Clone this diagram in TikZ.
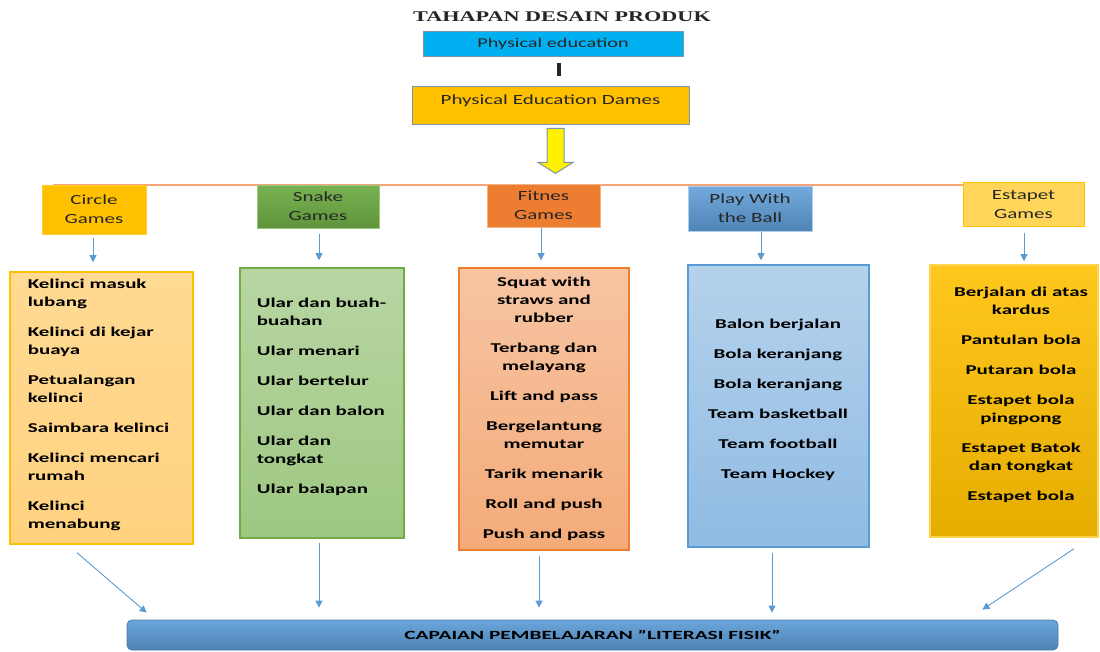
\documentclass[tikz,border=0pt]{standalone}
\usepackage{fontspec}
\setmainfont{Carlito}
\newfontfamily\titlefont{Liberation Serif}
\usepackage{graphicx}
\usetikzlibrary{arrows.meta,calc}
\definecolor{cPE}{HTML}{00B0F0}
\definecolor{cGold}{HTML}{FFC000}
\definecolor{cBoxLine}{HTML}{7F93AA}
\definecolor{cOrange}{HTML}{ED7D31}
\definecolor{cOrLine}{HTML}{F4A47A}
\definecolor{cGreen}{HTML}{70AD47}
\definecolor{cBlue}{HTML}{5B9BD5}
\definecolor{cTxt}{HTML}{262626}
\definecolor{cCircTop}{HTML}{FFDA94}
\definecolor{cCircBot}{HTML}{FFD27F}
\newcommand{\sx}[1]{\scalebox{1.5}[1]{#1}}
\newcommand{\hl}[1]{\scalebox{1.5}[1]{\begin{tabular}{@{}c@{}}#1\end{tabular}}}
\newcommand{\lstL}[1]{\scalebox{1.55}[1]{\begin{tabular}{@{}l@{}}#1\end{tabular}}}
\newcommand{\lstC}[1]{\scalebox{1.55}[1]{\begin{tabular}{@{}c@{}}#1\end{tabular}}}
\begin{document}
\begin{tikzpicture}[x=1pt,y=-1pt,
  box/.style={inner sep=0pt, line width=0.8pt},
  hdr/.style={box, text=cTxt, font=\fontsize{14}{19}\selectfont, line width=1pt},
  cbox/.style={box, line width=1.5pt},
  ltext/.style={inner sep=0pt, text=black, font=\bfseries\fontsize{13.5}{18}\selectfont},
  arr/.style={draw=cBlue, line width=0.9pt, -{Triangle[width=7pt,length=7pt]}},
  yarrow/.style={fill=yellow, draw=cBoxLine, line width=1pt, line join=miter}
]
\useasboundingbox (0,0) rectangle (1100,652);

% title
\node[inner sep=0pt, text=cTxt, font=\titlefont\bfseries\fontsize{14.8}{16}\selectfont] (title) at (562,17) {\sx{TAHAPAN DESAIN PRODUK}};

% top boxes
\node[box, fill=cPE, draw=cBoxLine, minimum width=260, minimum height=25, text=cTxt, font=\fontsize{13.5}{16}\selectfont] (pe) at (553,43.5) {\sx{Physical education}};
\node[box, fill=cGold, draw=cBoxLine, minimum width=277, minimum height=38] (ped) at (550.5,105) {};
\node[inner sep=0pt, text=cTxt, font=\fontsize{14}{16}\selectfont] (pedt) at ($(ped)+(0,-4)$) {\sx{Physical Education Dames}};

\draw[line width=3.5pt, black!85] ($(pe.south)+(6,7)$) -- ($(pe.south)+(6,20)$);
\draw[yarrow] ($(ped.south)+(-3.5,4)$) -- ++(17,0) -- ++(0,34) -- ++(9,0) -- ++(-17.5,11) -- ++(-17.5,-11) -- ++(9,0) -- cycle;

% orange line
\coordinate (la) at (53,185);
\coordinate (lb) at (965,185);
\draw[cOrLine, line width=1.5pt] (la) -- (lb);

% headers
\node[hdr, fill=cGold, draw=cGold!80!white, minimum width=104, minimum height=49] (circ) at (94,210.5) {\hl{Circle\\Games}};
\node[hdr, top color=cGreen!95!white, bottom color=cGreen!85!black, draw=cGreen!70!white, minimum width=122, minimum height=43] (snk) at (318,207.5) {\hl{Snake\\Games}};
\node[hdr, fill=cOrange, draw=cOrange!60!white, minimum width=113, minimum height=43] (fit) at (543.5,206.5) {\hl{Fitnes\\Games}};
\node[hdr, top color=cBlue!85!white, bottom color=cBlue!85!black, draw=cBlue!50!white, minimum width=124, minimum height=45] (play) at (750,209) {\hl{Play With\\the Ball}};
\node[hdr, fill=cGold!65!white, draw=cGold, minimum width=121, minimum height=44] (est) at (1023.5,205) {\hl{Estapet\\Games}};

% content boxes
\node[cbox, top color=cCircTop, bottom color=cCircBot, draw=cGold, minimum width=183, minimum height=272] (cc) at (101.5,408) {};
\node[cbox, top color=cGreen!50!white, bottom color=cGreen!68!white, draw=cGreen, minimum width=164, minimum height=270] (sc) at (322,403) {};
\node[cbox, top color=cOrange!45!white, bottom color=cOrange!65!white, draw=cOrange, minimum width=170, minimum height=282] (fc) at (544,409) {};
\node[cbox, top color=cBlue!45!white, bottom color=cBlue!68!white, draw=cBlue, minimum width=181, minimum height=282] (pc) at (778.5,406) {};
\node[cbox, top color=cGold!88!white, bottom color=cGold!90!black, draw=cGold!70!white, minimum width=168, minimum height=272] (ec) at (1014,401) {};

\node[ltext] (cct) at ($(cc)+(-3,-3)$) {\lstL{Kelinci masuk\\lubang\\[12pt]Kelinci di kejar\\buaya\\[12pt]Petualangan\\kelinci\\[12pt]Saimbara kelinci\\[12pt]Kelinci mencari\\rumah\\[12pt]Kelinci\\menabung}};
\node[ltext] (sct) at ($(sc)+(-0.5,-6.5)$) {\lstL{Ular dan buah-\\buahan\\[12pt]Ular menari\\[12pt]Ular bertelur\\[12pt]Ular dan balon\\[12pt]Ular dan\\tongkat\\[12pt]Ular balapan}};
\node[ltext] (fct) at ($(fc)+(0,-0.5)$) {\lstC{Squat with\\straws and\\rubber\\[12pt]Terbang dan\\melayang\\[12pt]Lift and pass\\[12pt]Bergelantung\\memutar\\[12pt]Tarik menarik\\[12pt]Roll and push\\[12pt]Push and pass}};
\node[ltext] (pct) at ($(pc)+(-0.5,-6.5)$) {\lstC{Balon berjalan\\[12pt]Bola keranjang\\[12pt]Bola keranjang\\[12pt]Team basketball\\[12pt]Team football\\[12pt]Team Hockey}};
\node[ltext] (ect) at ($(ec)+(7,-6.5)$) {\lstC{Berjalan di atas\\kardus\\[12pt]Pantulan bola\\[12pt]Putaran bola\\[12pt]Estapet bola\\pingpong\\[12pt]Estapet Batok\\dan tongkat\\[12pt]Estapet bola}};

% bottom bar
\node[box, rounded corners=5pt, top color=cBlue!90!white, bottom color=cBlue!85!black, draw=cBlue!80!black, line width=0.8pt, minimum width=931, minimum height=30, text=black, font=\bfseries\fontsize{12.5}{14}\selectfont] (bar) at (592.5,635) {\scalebox{1.71}[1]{CAPAIAN PEMBELAJARAN ”LITERASI FISIK”}};

% header -> content arrows
\draw[arr] ($(circ.south)+(-1,3)$) -- ($(circ.south |- cc.north)+(-1,-9)$);
\draw[arr] ($(snk.south)+(1,5)$) -- ($(snk.south |- sc.north)+(1,-7)$);
\draw[arr] ($(fit.south)+(-2.5,0)$) -- ($(fit.south |- fc.north)+(-2.5,-7)$);
\draw[arr] ($(play.south)+(11,0)$) -- ($(play.south |- pc.north)+(11,-4)$);
\draw[arr] ($(est.south)+(0.5,6)$) -- ($(est.south |- ec.north)+(0.5,-3)$);

% content -> bar arrows
\draw[arr] ($(cc.south)+(-24.5,8)$) -- ($(bar.north west)+(20,-7)$);
\draw[arr] ($(sc.south)+(-3,4)$) -- ($(sc.south |- bar.north)+(-3,-12)$);
\draw[arr] ($(fc.south)+(-5,5)$) -- ($(fc.south |- bar.north)+(-5,-12)$);
\draw[arr] ($(pc.south)+(-6.5,5)$) -- ($(pc.south |- bar.north)+(-6.5,-7)$);
\draw[arr] ($(ec.south)+(60,11)$) -- ($(bar.north east)+(-76,-10)$);
\end{tikzpicture}
\end{document}
